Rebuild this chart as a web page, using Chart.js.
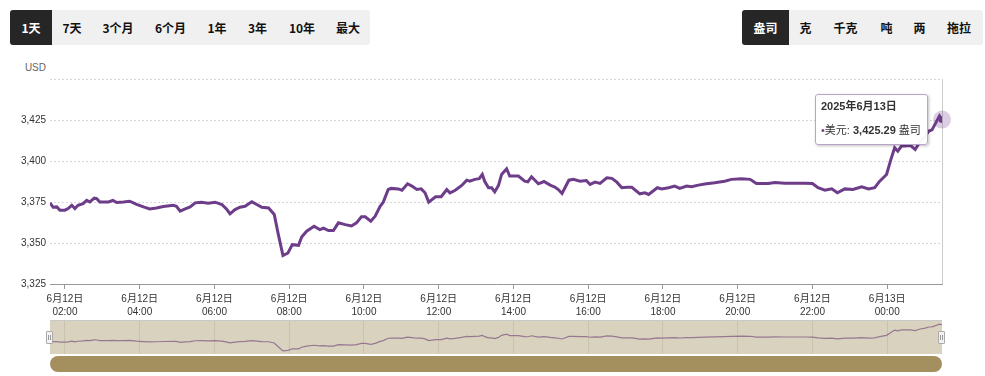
<!DOCTYPE html>
<html>
<head>
<meta charset="utf-8">
<script src="https://cdn.jsdelivr.net/npm/chart.js@4.4.0/dist/chart.umd.min.js"></script>
<style>
body { margin: 0; background: #fff; font-family: "Liberation Sans", Arial, "Noto Sans CJK SC", sans-serif; }
#wrap { position: relative; width: 985px; height: 376px; overflow: hidden; }
.group { position: absolute; top: 10px; height: 35px; background: #f0f0f0; border-radius: 3px; display: flex; overflow: hidden; }
.group div { height: 35px; line-height: 35px; text-align: center; font-size: 12px; font-weight: bold; color: #111; font-family: "Noto Sans CJK SC", sans-serif; }
.group div.on { background: #262626; color: #fff; }
#usd { position: absolute; left: 0; width: 46px; top: 62px; text-align: right; font-size: 10px; color: #666; }
#mainBox { position: absolute; left: 0; top: 55px; width: 985px; height: 265px; }
#navBox { position: absolute; left: 50px; top: 320px; width: 892px; height: 34px; background: #d9d2bf; border-top: 1px solid #c9c9c9; box-sizing: border-box; }
.handle { position: absolute; top: 331px; width: 5px; height: 11px; background: #f2f2f2; border: 1px solid #aaa; border-radius: 1px; }
.handle:after { content: ""; position: absolute; left: 1px; top: 3px; width: 1px; height: 5px; border-left: 1px solid #999; border-right: 1px solid #999; }
#scroll { position: absolute; left: 50px; top: 356px; width: 892px; height: 16px; background: #a48f5f; border-radius: 8px; }
#tip { position: absolute; background: rgba(255,255,255,0.96); border: 1px solid #b9a3ca; border-radius: 3px; padding: 4px 6px 7px 5px; font-size: 11px; color: #333; box-shadow: 1px 1px 3px rgba(0,0,0,0.25); white-space: nowrap; font-family: "Liberation Sans", Arial, "Noto Sans CJK SC", sans-serif; }
#tip .t { font-weight: bold; line-height: 14px; }
#tip .b { margin-top: 10px; line-height: 14px; }
</style>
</head>
<body>
<div id="wrap">
  <div class="group" id="rangeGroup" style="left:10px"></div>
  <div class="group" id="unitGroup" style="left:742px"></div>
  <div id="usd">USD</div>
  <div id="mainBox"><canvas id="priceChart"></canvas></div>
  <div id="navBox"><canvas id="navChart"></canvas></div>
  <div class="handle" style="left:46px"></div>
  <div class="handle" style="left:938px"></div>
  <div id="scroll"></div>
  <div id="tip"></div>
</div>
<script>
// buttons
const rangeButtons = ['1天', '7天', '3个月', '6个月', '1年', '3年', '10年', '最大'];
const rangeWidths = [42, 40, 52, 53, 40, 41, 48, 44];
const unitButtons = ['盎司', '克', '千克', '吨', '两', '拖拉'];
const unitWidths = [47, 33, 47, 35, 31, 48];

// minutes since 6月12日 00:00 and gold price in USD per ounce
const times = [96, 101, 107, 112, 120, 125, 131, 136, 141, 149, 155, 160, 167, 171, 176, 190, 197, 203, 214, 224,
  235, 246, 256, 267, 278, 294, 299, 305, 313, 321, 329, 339, 350, 361, 372, 380, 385, 393, 401, 409,
  420, 428, 436, 447, 456, 462, 470, 478, 485, 495, 500, 508, 520, 529, 535, 543, 551, 559, 570, 580,
  588, 596, 602, 611, 618, 626, 631, 639, 644, 655, 661, 670, 677, 685, 692, 698, 704, 715, 724, 733,
  738, 746, 757, 765, 770, 778, 785, 790, 794, 800, 805, 810, 816, 821, 829, 834, 848, 858, 863, 869,
  880, 889, 899, 907, 912, 918, 929, 936, 947, 957, 963, 971, 979, 990, 998, 1006, 1014, 1022, 1030, 1043,
  1051, 1057, 1071, 1078, 1089, 1099, 1107, 1118, 1126, 1137, 1147, 1163, 1179, 1190, 1206, 1220, 1230, 1249, 1260, 1276,
  1308, 1320, 1329, 1340, 1351, 1360, 1372, 1385, 1399, 1410, 1420, 1428, 1439, 1446, 1452, 1457, 1463, 1468, 1477, 1485,
  1493, 1501, 1507, 1512, 1524, 1528];
const prices = [3374.5, 3371.8, 3372.0, 3370.0, 3370.0, 3371.0, 3373.0, 3371.0, 3373.0, 3374.0, 3376.0, 3375.0, 3377.3, 3377.0, 3375.0, 3375.0, 3376.0, 3374.7, 3375.0, 3375.5,
  3373.5, 3372.0, 3370.8, 3371.4, 3372.2, 3373.0, 3372.4, 3369.4, 3370.8, 3372.0, 3374.5, 3374.9, 3374.3, 3374.9, 3373.5, 3370.4, 3367.8, 3370.4, 3371.8, 3372.4,
  3375.1, 3373.5, 3371.8, 3371.4, 3367.4, 3356.2, 3342.3, 3343.9, 3349.0, 3348.6, 3353.7, 3357.2, 3360.2, 3358.2, 3359.0, 3357.6, 3357.6, 3362.3, 3361.2, 3360.4,
  3362.3, 3366.0, 3366.0, 3363.3, 3366.3, 3372.4, 3374.9, 3382.6, 3383.3, 3383.0, 3382.2, 3386.1, 3384.7, 3382.6, 3383.0, 3380.6, 3374.9, 3378.2, 3378.2, 3382.6,
  3380.6, 3382.0, 3385.1, 3388.3, 3387.7, 3388.8, 3389.2, 3391.8, 3387.5, 3383.7, 3383.7, 3381.2, 3385.1, 3391.8, 3395.3, 3390.8, 3390.8, 3387.7, 3387.3, 3390.4,
  3386.1, 3387.5, 3385.3, 3384.0, 3382.6, 3380.2, 3388.3, 3388.8, 3387.7, 3388.1, 3385.7, 3387.1, 3386.3, 3389.8, 3389.4, 3387.1, 3383.7, 3384.0, 3384.0, 3380.0,
  3380.6, 3379.6, 3383.7, 3383.0, 3383.7, 3384.7, 3383.3, 3384.7, 3384.3, 3385.3, 3386.0, 3386.7, 3387.7, 3388.8, 3389.2, 3388.8, 3386.3, 3386.3, 3386.9, 3386.5,
  3386.5, 3386.3, 3383.7, 3382.2, 3383.0, 3380.6, 3383.0, 3382.6, 3384.3, 3383.0, 3383.7, 3387.7, 3391.8, 3401.0, 3408.1, 3406.0, 3409.1, 3409.1, 3409.5, 3407.0,
  3412.0, 3415.0, 3418.3, 3419.0, 3427.5, 3425.29];

// x axis ticks every 2 hours
const tickMinutes = [120, 240, 360, 480, 600, 720, 840, 960, 1080, 1200, 1320, 1440];
const tickLabels = [['6月12日', '02:00'], ['6月12日', '04:00'], ['6月12日', '06:00'], ['6月12日', '08:00'],
  ['6月12日', '10:00'], ['6月12日', '12:00'], ['6月12日', '14:00'], ['6月12日', '16:00'],
  ['6月12日', '18:00'], ['6月12日', '20:00'], ['6月12日', '22:00'], ['6月13日', '00:00']];
const yMin = 3325, yMax = 3450, yStep = 25;

const lineColor = '#6e3d8a';

function fillGroup(id, names, widths) {
    const g = document.getElementById(id);
    names.forEach((n, i) => {
        const d = document.createElement('div');
        d.textContent = n;
        d.style.width = widths[i] + 'px';
        if (i === 0) d.className = 'on';
        g.appendChild(d);
    });
}
fillGroup('rangeGroup', rangeButtons, rangeWidths);
fillGroup('unitGroup', unitButtons, unitWidths);

Chart.defaults.font.family = '"Liberation Sans", Arial, "Noto Sans CJK SC", sans-serif';
Chart.defaults.color = '#333';

const points = times.map((t, i) => ({ x: t, y: prices[i] }));
const lastIndex = points.length - 1;

// right border of plot + halo on the last point
const extras = {
    id: 'extras',
    beforeDatasetsDraw(chart) {
        const a = chart.chartArea, c = chart.ctx;
        c.save();
        c.strokeStyle = '#cccccc';
        c.lineWidth = 1;
        c.beginPath();
        c.moveTo(Math.round(a.right) + 0.5, a.top);
        c.lineTo(Math.round(a.right) + 0.5, a.bottom);
        c.stroke();
        c.restore();
    },
    afterDatasetsDraw(chart) {
        const pt = chart.getDatasetMeta(0).data[lastIndex];
        const c = chart.ctx;
        c.save();
        c.fillStyle = 'rgba(110,61,138,0.25)';
        c.beginPath();
        c.arc(pt.x, pt.y, 9, 0, Math.PI * 2);
        c.fill();
        c.restore();
    }
};

const priceChart = new Chart(document.getElementById('priceChart'), {
    type: 'line',
    data: {
        datasets: [{
            data: points,
            borderColor: lineColor,
            borderWidth: 3,
            tension: 0,
            pointRadius: ctx => ctx.dataIndex === lastIndex ? 3.5 : 0,
            pointBackgroundColor: lineColor,
            pointBorderWidth: 0
        }]
    },
    options: {
        responsive: true,
        maintainAspectRatio: false,
        animation: false,
        events: [],
        layout: { padding: { left: 0, right: 43, top: 24, bottom: 0 } },
        plugins: { legend: { display: false }, tooltip: { enabled: false } },
        scales: {
            x: {
                type: 'linear',
                min: times[0],
                max: times[lastIndex],
                afterBuildTicks: scale => { scale.ticks = tickMinutes.map(v => ({ value: v })); },
                afterFit: scale => { scale.height = 36; },
                grid: { drawOnChartArea: false, drawTicks: true, tickLength: 5, tickColor: '#999' },
                border: { color: '#999' },
                ticks: {
                    autoSkip: false,
                    maxRotation: 0,
                    padding: 4,
                    font: { size: 10, lineHeight: 1.3 },
                    color: '#333',
                    callback: (v) => tickLabels[tickMinutes.indexOf(v)]
                }
            },
            y: {
                min: yMin,
                max: yMax,
                afterFit: scale => { scale.width = 50; },
                grid: {
                    drawTicks: false,
                    color: ctx => ctx.tick && ctx.tick.value === yMin ? 'rgba(0,0,0,0)' : '#d6d6d6'
                },
                border: { display: false, dash: [2, 2] },
                ticks: {
                    stepSize: yStep,
                    padding: 4,
                    font: { size: 10 },
                    color: '#333',
                    callback: v => v === yMax ? '' : v.toLocaleString('en-US')
                }
            }
        }
    },
    plugins: [extras]
});

// navigator under the chart
const navChart = new Chart(document.getElementById('navChart'), {
    type: 'line',
    data: {
        datasets: [{
            data: points,
            borderColor: 'rgba(130,90,130,0.75)',
            borderWidth: 1.2,
            pointRadius: 0,
            tension: 0
        }]
    },
    options: {
        responsive: true,
        maintainAspectRatio: false,
        animation: false,
        events: [],
        layout: { padding: 0 },
        plugins: { legend: { display: false }, tooltip: { enabled: false } },
        scales: {
            x: {
                type: 'linear',
                min: times[0],
                max: times[lastIndex],
                afterBuildTicks: scale => { scale.ticks = tickMinutes.map(v => ({ value: v })); },
                grid: { drawTicks: false, color: 'rgba(140,120,80,0.18)' },
                border: { display: false },
                ticks: { display: false }
            },
            y: {
                display: false,
                min: Math.min(...prices) - 10,
                max: Math.max(...prices) + 10
            }
        }
    }
});

// tooltip for the last point
const tip = document.getElementById('tip');
const lastT = times[lastIndex];
const day = lastT >= 1440 ? 13 : 12;
tip.innerHTML = '<div class="t">2025年6月' + day + '日</div>' +
    '<div class="b"><span style="color:' + lineColor + '">•</span>美元: <b>' +
    prices[lastIndex].toLocaleString('en-US', { minimumFractionDigits: 2 }) + '</b> 盎司</div>';
const pt = priceChart.getDatasetMeta(0).data[lastIndex];
tip.style.left = (pt.x - 14 - tip.offsetWidth) + 'px';
tip.style.top = (55 + pt.y - tip.offsetHeight / 2) + 'px';
</script>
</body>
</html>
